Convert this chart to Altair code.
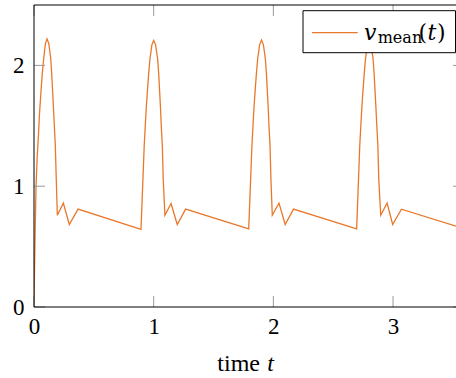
import altair as alt
import pandas as pd

# ---- data ----
t_vals = [
    0.000, 0.005, 0.011, 0.017, 0.027, 0.036, 0.046, 0.058, 0.069, 0.081, 0.095, 0.109,
    0.124, 0.140, 0.148, 0.156, 0.163, 0.170, 0.178, 0.186, 0.195, 0.245, 0.295, 0.368,
    0.894, 0.921, 0.930, 0.938, 0.947, 0.958, 0.969, 0.985, 1.000, 1.016, 1.033, 1.042,
    1.050, 1.057, 1.063, 1.072, 1.080, 1.094, 1.145, 1.197, 1.267,
    1.794, 1.821, 1.830, 1.838, 1.847, 1.858, 1.869, 1.885, 1.901, 1.917, 1.933, 1.942,
    1.950, 1.957, 1.963, 1.972, 1.980, 1.991, 2.047, 2.099, 2.168,
    2.696, 2.722, 2.731, 2.739, 2.748, 2.759, 2.770, 2.786, 2.801, 2.817, 2.833, 2.842,
    2.850, 2.857, 2.864, 2.873, 2.881, 2.897, 2.950, 2.997, 3.070,
    3.526,
]
v_vals = [
    0.000, 0.350, 0.700, 1.000, 1.250, 1.400, 1.600, 1.780, 1.930, 2.055, 2.180, 2.220,
    2.180, 2.055, 1.930, 1.780, 1.640, 1.500, 1.340, 1.060, 0.760, 0.860, 0.683, 0.810,
    0.642, 1.339, 1.504, 1.650, 1.779, 1.930, 2.055, 2.170, 2.207, 2.170, 2.055, 1.930,
    1.779, 1.650, 1.504, 1.339, 1.050, 0.760, 0.857, 0.683, 0.810,
    0.647, 1.339, 1.504, 1.650, 1.779, 1.930, 2.055, 2.170, 2.210, 2.170, 2.055, 1.930,
    1.779, 1.650, 1.504, 1.339, 1.050, 0.760, 0.860, 0.683, 0.810,
    0.647, 1.339, 1.504, 1.650, 1.779, 1.930, 2.055, 2.170, 2.210, 2.170, 2.055, 1.930,
    1.779, 1.650, 1.504, 1.339, 1.050, 0.760, 0.860, 0.683, 0.810,
    0.669,
]
x_ticks = [0, 1, 2, 3]
y_ticks = [0, 1, 2]

X_MAX = 3.526
Y_MAX = 2.5
W, H = 422, 302
FONT_TICKS = "Times New Roman"
FONT_TITLE = "Liberation Serif"
FONT_LEG = "DejaVu Serif"
ORANGE = "#E9782B"
TICK = "#9a9a9a"
TL = 11  # tick length

df = pd.DataFrame({"t": t_vals, "v": v_vals})
xt = pd.DataFrame({"t": x_ticks})
yt = pd.DataFrame({"v": y_ticks})

xscale = alt.Scale(domain=[0, X_MAX], nice=False, zero=False)
yscale = alt.Scale(domain=[0, Y_MAX], nice=False, zero=False)

line = alt.Chart(df).mark_line(color=ORANGE, strokeWidth=1.3, clip=True).encode(
    x=alt.X("t:Q", scale=xscale,
            axis=alt.Axis(values=x_ticks, title=None, grid=False, domain=False,
                          ticks=False, tickSize=0, labelFont=FONT_TICKS, labelFontSize=23,
                          labelColor="black", labelBaseline="alphabetic",
                          labelPadding=26, labelFlush=False, format="d")),
    y=alt.Y("v:Q", scale=yscale,
            axis=alt.Axis(values=y_ticks, title=None, grid=False, domain=False,
                          ticks=False, tickSize=0, labelFont=FONT_TICKS, labelFontSize=23,
                          labelColor="black", labelPadding=10, labelFlush=False,
                          format="d")),
    order=alt.Order("t:Q"),
)

bt = alt.Chart(xt).mark_rule(color=TICK, strokeWidth=1).encode(
    x=alt.X("t:Q", scale=xscale), y=alt.value(H), y2=alt.value(H - TL))
tt = alt.Chart(xt).mark_rule(color=TICK, strokeWidth=1).encode(
    x=alt.X("t:Q", scale=xscale), y=alt.value(0), y2=alt.value(TL))
lt = alt.Chart(yt).mark_rule(color=TICK, strokeWidth=1).encode(
    y=alt.Y("v:Q", scale=yscale), x=alt.value(0), x2=alt.value(TL))
rt = alt.Chart(yt).mark_rule(color=TICK, strokeWidth=1).encode(
    y=alt.Y("v:Q", scale=yscale), x=alt.value(W - 3), x2=alt.value(W))

one = pd.DataFrame({"a": [0]})
base = alt.Chart(one)

# frame: top, left, bottom (the right edge lies outside the picture)
frame_top = base.mark_rule(color="black", strokeWidth=1).encode(
    x=alt.value(0), x2=alt.value(W), y=alt.value(0))
frame_left = base.mark_rule(color="black", strokeWidth=1).encode(
    x=alt.value(0), y=alt.value(0), y2=alt.value(H))
frame_bottom = base.mark_rule(color="black", strokeWidth=1).encode(
    x=alt.value(0), x2=alt.value(W), y=alt.value(H))

legend_box = base.mark_rect(fill="white", stroke="black", strokeWidth=1).encode(
    x=alt.value(269), x2=alt.value(421.5), y=alt.value(5.7), y2=alt.value(47.7))
legend_line = base.mark_rule(color=ORANGE, strokeWidth=1.3).encode(
    x=alt.value(278), x2=alt.value(323.7), y=alt.value(27.7))

def txt(s, x, y, font, size=22, italic=False):
    kw = dict(text=s, font=font, fontSize=size, align="left",
              baseline="alphabetic", color="black")
    if italic:
        kw["fontStyle"] = "italic"
    return base.mark_text(**kw).encode(x=alt.value(x), y=alt.value(y))

leg_v = txt("v", 330, 34.5, FONT_LEG, 22, True)
leg_mean = txt("mean", 343.7, 38.3, FONT_LEG, 16)
leg_lp = txt("(", 384.5, 34.5, FONT_LEG)
leg_t = txt("t", 393.5, 34.5, FONT_LEG, 22, True)
leg_rp = txt(")", 403, 34.5, FONT_LEG)

title_time = txt("time", 183.3, 365.7, FONT_TITLE, 24)
title_t = txt("t", 233.3, 365.7, FONT_TITLE, 24, True)

chart = alt.layer(
    line, bt, tt, lt, rt, frame_top, frame_left, frame_bottom,
    legend_box, legend_line, leg_v, leg_mean, leg_lp, leg_t, leg_rp,
    title_time, title_t,
).properties(
    width=W, height=H,
    autosize=alt.AutoSizeParams(type="none"),
    padding={"left": 34, "top": 5, "right": 0, "bottom": 71},
).configure_view(strokeWidth=0)

chart.save("out.html", embed_options={"renderer": "svg", "actions": False})
